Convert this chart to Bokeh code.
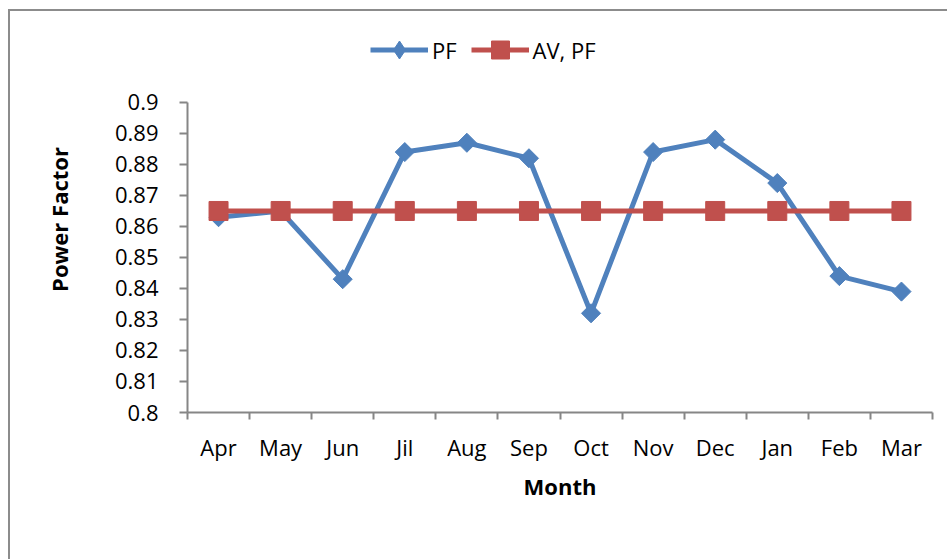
import math
from bokeh.plotting import figure
from bokeh.models import (FixedTicker, CustomJSTickFormatter, Legend, LegendItem,
                          ColumnDataSource, Range1d)
from bokeh.embed import file_html
from bokeh.resources import INLINE

months = ["Apr", "May", "Jun", "Jil", "Aug", "Sep", "Oct", "Nov", "Dec", "Jan", "Feb", "Mar"]
pf = [0.863, 0.865, 0.843, 0.884, 0.887, 0.882, 0.832, 0.884, 0.888, 0.874, 0.844, 0.839]
av_pf = [0.865] * 12
y_ticks = [0.80, 0.81, 0.82, 0.83, 0.84, 0.85, 0.86, 0.87, 0.88, 0.89, 0.90]

BLUE = "#4F81BD"
RED = "#C0504D"
GRAY = "#868686"
FONT = "Open Sans"

xs = [i + 0.5 for i in range(len(months))]
src = ColumnDataSource(dict(x=xs, pf=pf, av=av_pf))

# frame extends above 0.9 so the legend can sit inside it; axis is bounded to 0.8-0.9
p = figure(width=947, height=559, output_backend="svg", toolbar_location=None,
           x_range=Range1d(0, len(months)), y_range=Range1d(0.8, 0.9245),
           min_border_left=187, min_border_right=15, min_border_top=26, min_border_bottom=147)
p.outline_line_color = None
p.xgrid.grid_line_color = None
p.ygrid.grid_line_color = None
p.background_fill_color = "white"
p.border_fill_alpha = 0
p.styles = {"box-shadow": "inset 8px 9px 0 0 white, inset 10px 11px 0 0 #8c8c8c"}

r_pf_line = p.line("x", "pf", source=src, line_color=BLUE, line_width=5)
r_pf_mark = p.scatter("x", "pf", source=src, marker="square", size=13.5, angle=math.pi / 4,
                      fill_color=BLUE, line_color=BLUE)
r_av_line = p.line("x", "av", source=src, line_color=RED, line_width=5)
r_av_mark = p.scatter("x", "av", source=src, marker="square", size=19,
                      fill_color=RED, line_color=RED)
# legend-only diamond glyph (legend draws markers unrotated); NaN point is never drawn in the plot
r_pf_legend = p.scatter(x=[math.nan], y=[math.nan], marker="diamond", size=19,
                        fill_color=BLUE, line_color=BLUE)

# x axis
p.xaxis.ticker = FixedTicker(ticks=xs, minor_ticks=list(range(len(months) + 1)))
p.xaxis.major_label_overrides = {x: m for x, m in zip(xs, months)}
p.xaxis.major_tick_line_color = None
p.xaxis.minor_tick_line_color = GRAY
p.xaxis.minor_tick_out = 7
p.xaxis.minor_tick_in = 0
p.xaxis.minor_tick_line_width = 2
p.xaxis.axis_line_color = GRAY
p.xaxis.axis_line_width = 2
p.xaxis.major_label_text_font = FONT
p.xaxis.major_label_text_font_size = "22px"
p.xaxis.major_label_text_color = "black"
p.xaxis.major_label_standoff = 12
p.xaxis.axis_label = "Month"
p.xaxis.axis_label_text_font = FONT
p.xaxis.axis_label_text_font_size = "22px"
p.xaxis.axis_label_text_font_style = "bold"
p.xaxis.axis_label_text_color = "black"
p.xaxis.axis_label_standoff = 6

# y axis
p.yaxis.bounds = (y_ticks[0], y_ticks[-1])
p.yaxis.ticker = FixedTicker(ticks=y_ticks)
p.yaxis.formatter = CustomJSTickFormatter(code="return String(Number(tick.toFixed(2)));")
p.yaxis.major_tick_line_color = GRAY
p.yaxis.major_tick_line_width = 2
p.yaxis.major_tick_out = 8
p.yaxis.major_tick_in = 0
p.yaxis.minor_tick_line_color = None
p.yaxis.axis_line_color = GRAY
p.yaxis.axis_line_width = 2
p.yaxis.major_label_text_font = FONT
p.yaxis.major_label_text_font_size = "22px"
p.yaxis.major_label_text_color = "black"
p.yaxis.major_label_standoff = 21
p.yaxis.axis_label = "Power Factor"
p.yaxis.axis_label_text_font = FONT
p.yaxis.axis_label_text_font_size = "22px"
p.yaxis.axis_label_text_font_style = "bold"
p.yaxis.axis_label_text_color = "black"
p.yaxis.axis_label_standoff = 38

legend = Legend(items=[LegendItem(label="PF", renderers=[r_pf_line, r_pf_legend]),
                       LegendItem(label="AV, PF", renderers=[r_av_line, r_av_mark])],
                orientation="horizontal", location=(183, 340),
                glyph_width=58, glyph_height=45, label_standoff=4, spacing=14,
                padding=0, margin=0, border_line_color=None, background_fill_alpha=0,
                label_text_font=FONT, label_text_font_size="22px", label_text_color="black")
p.add_layout(legend)

open("out.html", "w").write(file_html(p, INLINE))
